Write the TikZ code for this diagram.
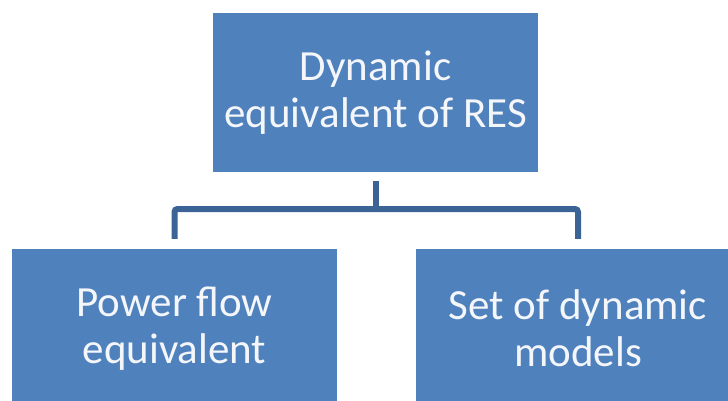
\documentclass[tikz,border=0pt]{standalone}
\usepackage{fontspec}
\setmainfont{Carlito}
\definecolor{boxblue}{HTML}{4F81BD}
\definecolor{linkblue}{HTML}{3C6395}
\definecolor{boxtext}{HTML}{F4F6FA}
\begin{document}
\begin{tikzpicture}[x=1pt,y=-1pt,
  orgbox/.style={rectangle,fill=boxblue,inner sep=0pt,
    minimum width=325pt,minimum height=159pt,
    text=boxtext,align=center,
    font=\fontsize{43}{47}\selectfont},
  link/.style={draw=linkblue,line width=6pt,rounded corners=3pt,line cap=butt}]
\useasboundingbox (0,0) rectangle (728,401);
\begin{scope}
\clip (0,0) rectangle (728,401);
\node[orgbox] (top) at (375.5,92.5) {Dynamic\\equivalent of RES};
\node[orgbox] (pf) at (174.5,328.5) {Power flow\\equivalent};
\node[orgbox] (sd) at (578,328.5) {Set of dynamic\\models};
\coordinate (hub) at (375.5,209);
\draw[link] ([yshift=-9pt]top.south) -- (hub);
\draw[link] ([yshift=10pt]pf.north) |- (hub) -| ([yshift=10pt]sd.north);
\end{scope}
\end{tikzpicture}
\end{document}
